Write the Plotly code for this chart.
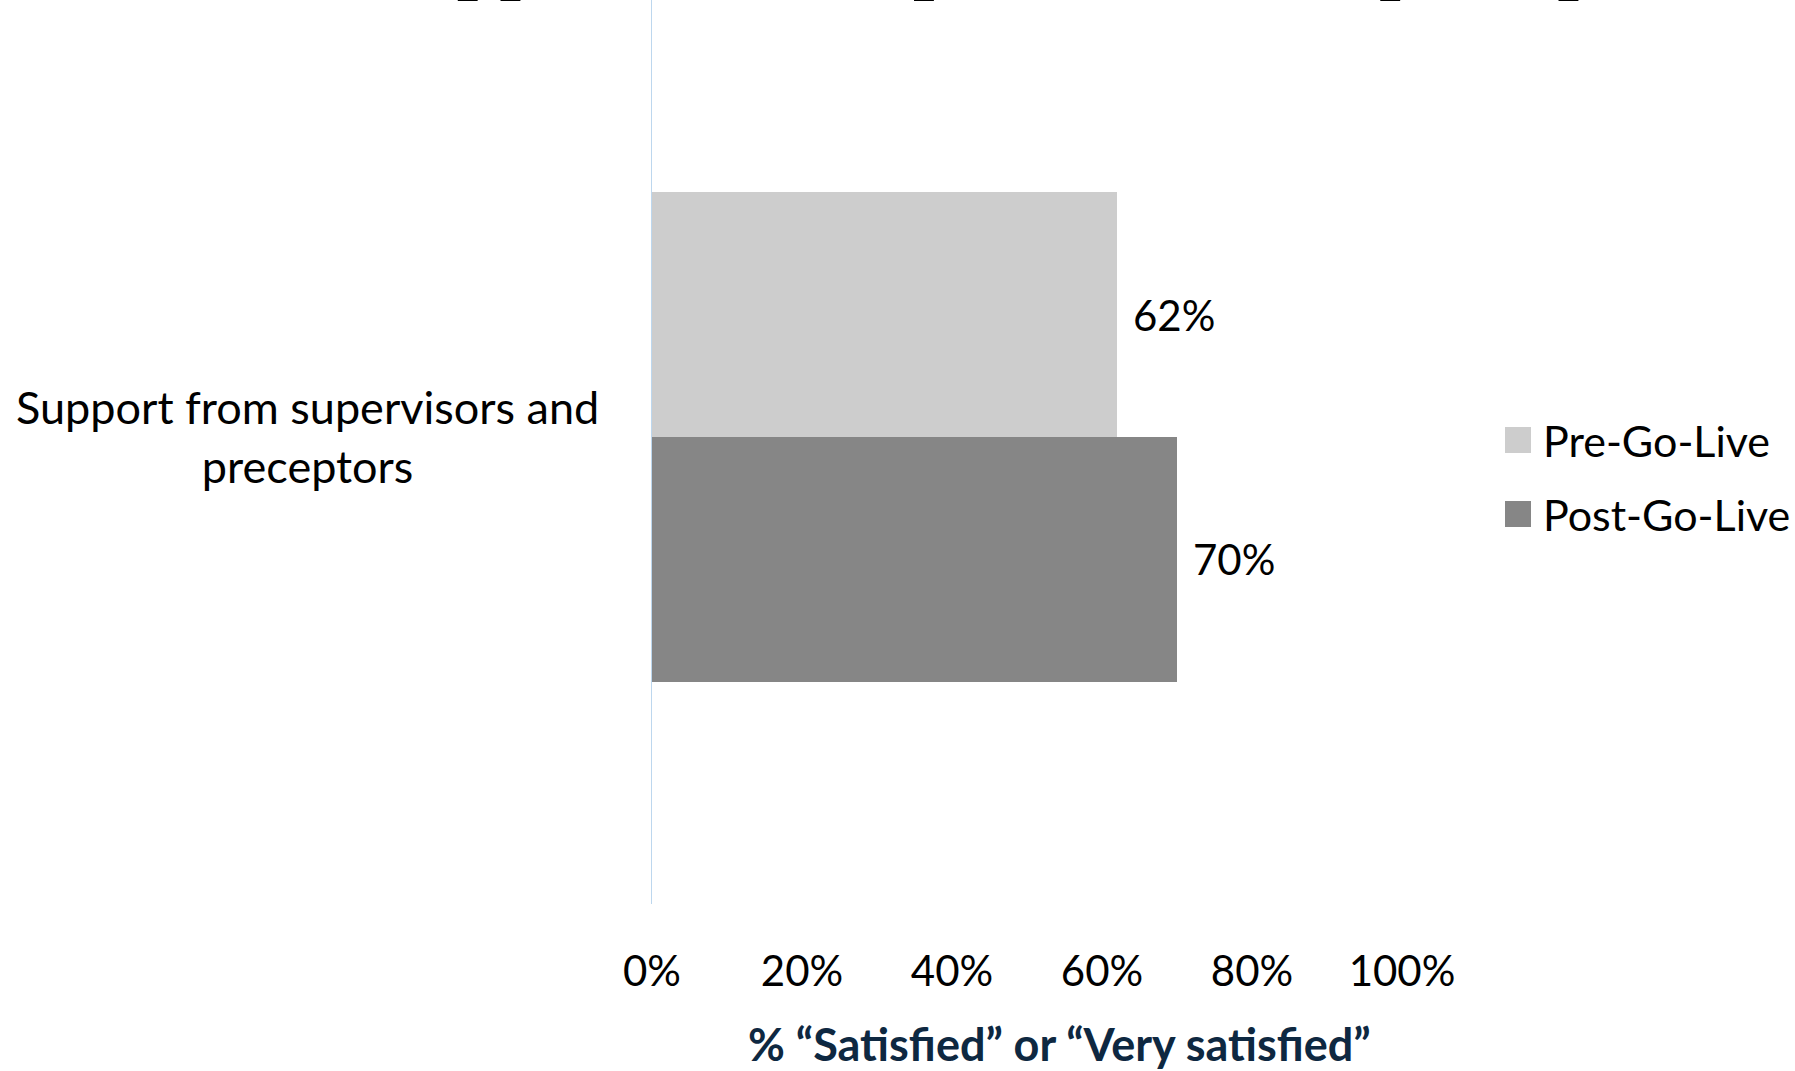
import plotly.graph_objects as go

title_text = "Support from supervisors and preceptors"
category = ["Support from supervisors and<br>preceptors"]
series_names = ["Pre-Go-Live", "Post-Go-Live"]
series_values = [[0.62], [0.70]]
series_colors = ["#CDCDCD", "#868686"]
tick_vals = [0, 0.2, 0.4, 0.6, 0.8, 1.0]
tick_text = ["0%", "20%", "40%", "60%", "80%", "100%"]
x_title = "% \u201cSatisfied\u201d or \u201cVery satisfied\u201d"

W, H = 1795, 1071
L, R, T, B = 652, 393, 0, 167
PW, PH = W - L - R, H - T - B
FONT = "Lato"
FS_CAT = 45
FS_TICK = 42
FS_LEG = 43
FS_TITLE_X = 45

fig = go.Figure()
for name, vals, col in zip(series_names, series_values, series_colors):
    fig.add_trace(go.Bar(
        y=[0] * len(vals), x=vals, name=name, orientation="h",
        marker=dict(color=col, line=dict(width=0)),
        showlegend=False,
    ))

def px_to_paper_x(px):
    return (px - L) / PW

def px_to_paper_y(py):
    return 1 - (py - T) / PH

annotations = [
    dict(text=category[0], x=px_to_paper_x(307), xref="paper", y=0, yref="y",
         showarrow=False, align="center", xanchor="center", yanchor="middle",
         font=dict(family=FONT, size=FS_CAT, color="#000000")),
    dict(text="<b>" + x_title + "</b>", x=px_to_paper_x(1059), xref="paper",
         y=px_to_paper_y(1044), yref="paper", showarrow=False,
         xanchor="center", yanchor="middle",
         font=dict(family=FONT, size=FS_TITLE_X, color="#0E2841")),
    dict(text="<b>" + title_text + "</b>", x=px_to_paper_x(1050), xref="paper",
         y=px_to_paper_y(4), yref="paper", showarrow=False,
         xanchor="center", yanchor="bottom",
         font=dict(family="Liberation Serif", size=77, color="#000000")),
]

# data labels, positioned from the data values
n = len(series_names)
group_w = 1 - 0.458
for i, (vals, name) in enumerate(zip(series_values, series_names)):
    for j, v in enumerate(vals):
        yoff = -group_w / 2 + group_w / n * (i + 0.5)
        annotations.append(dict(text=f"{v*100:.0f}%", x=v, xref="x",
                                y=j + yoff, yref="y", showarrow=False,
                                xanchor="left", yanchor="middle", xshift=14,
                                font=dict(family=FONT, size=FS_TICK, color="#000000")))

shapes = []
leg_rows = [440, 514]
for name, col, yc in zip(series_names, series_colors, leg_rows):
    shapes.append(dict(type="rect", xref="paper", yref="paper",
                       x0=px_to_paper_x(1505), x1=px_to_paper_x(1531),
                       y0=px_to_paper_y(yc + 13), y1=px_to_paper_y(yc - 13),
                       fillcolor=col, line=dict(width=0)))
    annotations.append(dict(text=name, x=px_to_paper_x(1541), xref="paper",
                            y=px_to_paper_y(yc), yref="paper", showarrow=False,
                            xanchor="left", yanchor="middle",
                            font=dict(family=FONT, size=FS_LEG, color="#000000")))

fig.update_layout(
    width=W, height=H,
    margin=dict(l=L, r=R, t=T, b=B, pad=0),
    paper_bgcolor="white", plot_bgcolor="white",
    barmode="group", bargap=0.458, bargroupgap=0,
    annotations=annotations, shapes=shapes,
    xaxis=dict(range=[0, 1], tickvals=tick_vals, ticktext=tick_text,
               showgrid=False, zeroline=False, showline=False,
               ticks="outside", ticklen=0, ticklabelstandoff=31,
               tickfont=dict(family=FONT, size=FS_TICK, color="#000000")),
    yaxis=dict(range=[0.5166, -0.4834], showticklabels=False, showgrid=False,
               zeroline=False, showline=True, linecolor="#BDD7EE", linewidth=1,
               ticks=""),
)
fig.write_html("out.html")
